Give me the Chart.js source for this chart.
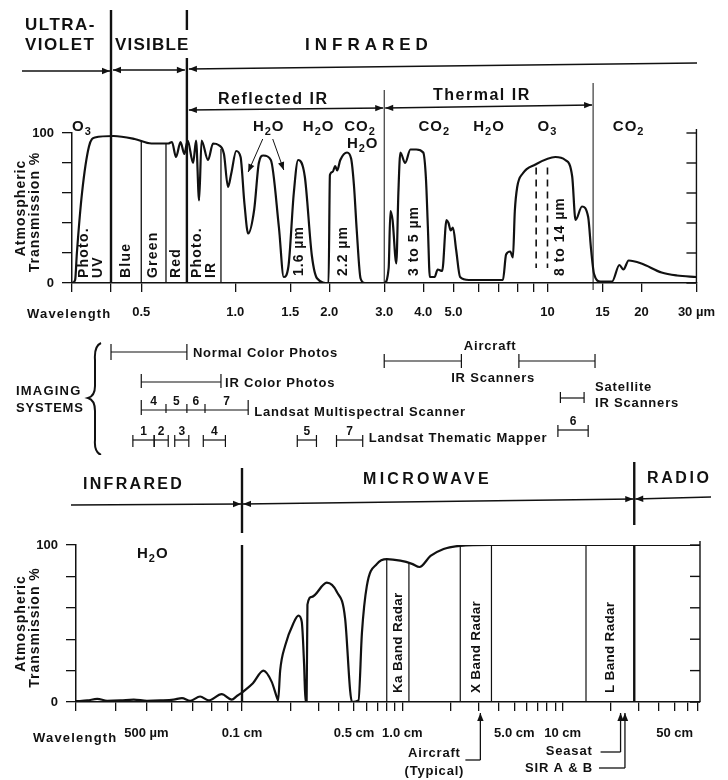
<!DOCTYPE html>
<html>
<head>
<meta charset="utf-8">
<script src="https://cdn.jsdelivr.net/npm/chart.js@4.4.1/dist/chart.umd.min.js"></script>
<style>
  body { margin: 0; background: #fff; }
  canvas { position: absolute; left: 0; }
  #topChart { top: 0; }
  #botChart { top: 455px; }
</style>
</head>
<body>
<canvas id="topChart" width="728" height="455"></canvas>
<canvas id="botChart" width="728" height="325"></canvas>
<script>
const FONT = '"Liberation Sans", Arial, sans-serif';
const INK = '#111';

// ---- upper panel: UV, visible, IR (wavelength in µm) ----
const opticalWavelength = [0.300, 0.307, 0.311, 0.323, 0.340, 0.355, 0.408, 0.476, 0.539, 0.600,
  0.610, 0.627, 0.646, 0.668, 0.687, 0.704, 0.733, 0.749, 0.766, 0.780,
  0.818, 0.849, 0.884, 0.920, 0.948, 0.971, 1.007, 1.040, 1.070, 1.100,
  1.150, 1.190, 1.230, 1.300, 1.380, 1.430, 1.480, 1.540, 1.590, 1.670,
  1.760, 1.830, 1.990, 2.010, 2.050, 2.090, 2.120, 2.170, 2.280, 2.350,
  2.400, 2.450, 2.520, 2.600, 3.000, 3.100, 3.140, 3.190, 3.280, 3.330,
  3.380, 3.500, 3.640, 3.800, 4.000, 4.080, 4.140, 4.200, 4.350, 4.450,
  4.600, 4.750, 4.820, 4.900, 4.980, 5.100, 5.250, 5.600, 7.200, 7.370,
  7.600, 7.750, 7.860, 8.000, 8.330, 9.150, 10.60, 11.40, 12.00, 12.30,
  12.90, 13.50, 13.80, 14.10, 14.80, 16.10, 17.00, 17.50, 18.20, 20.00,
  23.20, 26.00, 30.00];
const opticalTransmission = [0, 2, 20, 60, 91, 97, 98, 96, 93, 93,
  93, 94, 84, 94, 86, 95, 80, 95, 55, 95,
  82, 93, 92, 86, 64, 73, 88, 84, 53, 33,
  49, 80, 85, 82, 37, 4, 11, 60, 82, 71,
  18, 3, 0, 72, 74, 78, 75, 82, 87, 83,
  65, 35, 3, 0, 0, 10, 48, 42, 13, 60,
  87, 80, 89, 89, 87, 70, 37, 4, 4, 9,
  8, 42, 40, 35, 37, 22, 4, 2, 2, 19,
  21, 17, 48, 64, 73, 79, 84, 82, 71, 42,
  51, 44, 22, 6, 1, 1, 12, 9, 15, 13,
  7, 5, 4];
const opticalTicks = [0.3, 0.4, 0.5, 1, 1.5, 2, 3, 4, 5, 6, 7, 8, 9, 10, 15, 20, 30];
const opticalTickLabels = {0.5: '0.5', 1: '1.0', 1.5: '1.5', 2: '2.0', 3: '3.0', 4: '4.0', 5: '5.0',
  10: '10', 15: '15', 20: '20', 30: '30 µm'};
const regionEdges = [0.4, 0.7, 3.0, 14];          // UV|vis, vis|IR, reflected|thermal, thermal end
const spectralBands = [['Photo.|UV', 0.3, 0.4], ['Blue', 0.4, 0.5], ['Green', 0.5, 0.6],
  ['Red', 0.6, 0.7], ['Photo.|IR', 0.7, 0.9]];
const bandEdges = [0.5, 0.6, 0.9];
const windowLabels = [['1.6 µm', 1.6], ['2.2 µm', 2.22], ['3 to 5 µm', 3.73], ['8 to 14 µm', 11.0]];
const windowDashes = [9.2, 10.0];
const gasLabels = [['H2O', 1.28, 131], ['H2O', 1.85, 131], ['CO2', 2.51, 131], ['H2O', 2.56, 148],
  ['CO2', 4.34, 131], ['H2O', 6.5, 131], ['O3', 10.0, 131], ['CO2', 18.2, 131]];
const waterArrows = [1.10, 1.43];

// imaging systems (µm)
const colorPhotos = [0.4, 0.7];
const irColorPhotos = [0.5, 0.9];
const mssBands = [['4', 0.5, 0.6], ['5', 0.6, 0.7], ['6', 0.7, 0.8], ['7', 0.8, 1.1]];
const tmBands = [['1', 0.47, 0.55], ['2', 0.55, 0.61], ['3', 0.64, 0.71], ['4', 0.79, 0.93],
  ['5', 1.58, 1.82], ['7', 2.11, 2.56], ['6', 10.8, 13.5]];
const aircraftScanners = [[3.0, 5.3], [8.1, 14.2]];
const satelliteScanner = [11.0, 13.1];

// ---- lower panel: far IR (µm) and microwave / radio (cm) ----
const farIrWavelength = [300, 326, 350, 376, 414, 456, 502, 553, 609, 647, 687, 738, 784, 863, 928, 966, 1000];
const farIrTransmission = [0.5, 1, 2, 0.8, 1, 1.5, 0.8, 1, 1.5, 2.5, 0.8, 3.5, 1, 5, 1.5, 4, 6];
const microwaveWavelength = [0.100, 0.117, 0.136, 0.153, 0.165, 0.168, 0.173, 0.186, 0.209, 0.225,
  0.236, 0.244, 0.249, 0.253, 0.256, 0.273, 0.338, 0.391, 0.440, 0.473,
  0.485, 0.533, 0.560, 0.601, 0.695, 0.802, 0.972, 1.15, 1.28, 1.50,
  1.81, 2.30, 3.55, 10, 72];
const microwaveTransmission = [6, 12, 20, 13, 3, 1, 20, 36, 50, 55,
  51, 24, 0, 0, 62, 67, 76, 70, 53, 7,
  0, 1, 44, 74, 88, 91, 90, 88, 86, 93,
  97.5, 99.5, 100, 100, 100];
const farIrTicks = [300, 400, 500, 600, 700, 800, 900];
const farIrTickLabels = {500: '500 µm'};
const microwaveTicks = [0.1, 0.2, 0.3, 0.4, 0.5, 0.6, 0.7, 0.8, 0.9, 1, 2, 3, 4, 5, 6, 7, 8, 9, 10, 20, 30, 40, 50, 60, 70];
const microwaveTickLabels = {0.1: '0.1 cm', 0.5: '0.5 cm', 1: '1.0 cm', 5: '5.0 cm', 10: '10 cm', 50: '50 cm'};
const microwaveEdges = [0.1, 28];                 // IR|microwave, microwave|radio
const radarBands = [['Ka Band Radar', 0.8, 1.1], ['X Band Radar', 2.3, 3.6], ['L Band Radar', 14, 28]];
const radarSystems = [['Aircraft|(Typical)', 3.07], ['Seasat', 23], ['SIR A & B', 24.5]];

const percentTicks = [0, 20, 40, 60, 80, 100];

// ---- drawing helpers ----
function font(size) { return 'bold ' + size + 'px ' + FONT; }

function txt(ctx, s, x, y, size, o = {}) {
  ctx.save();
  ctx.font = font(size);
  ctx.letterSpacing = (o.ls || 0) + 'px';
  ctx.textAlign = o.align || 'left';
  ctx.textBaseline = o.base || 'alphabetic';
  ctx.fillStyle = INK;
  if (o.rot) {
    ctx.translate(x, y);
    ctx.rotate(-Math.PI / 2);
    ctx.fillText(s, 0, 0);
  } else {
    ctx.fillText(s, x, y);
  }
  ctx.restore();
}

// formula with subscript digits, e.g. H2O
function chem(ctx, s, x, y, size, align) {
  ctx.save();
  ctx.fillStyle = INK;
  const big = font(size), small = font(Math.round(size * 0.72));
  let w = 0;
  for (const ch of s) { ctx.font = /\d/.test(ch) ? small : big; w += ctx.measureText(ch).width + 1; }
  let cx = align === 'center' ? x - w / 2 : x;
  for (const ch of s) {
    const sub = /\d/.test(ch);
    ctx.font = sub ? small : big;
    ctx.fillText(ch, cx, sub ? y + 4 : y);
    cx += ctx.measureText(ch).width + 1;
  }
  ctx.restore();
}

function seg(ctx, x1, y1, x2, y2) {
  ctx.beginPath(); ctx.moveTo(x1, y1); ctx.lineTo(x2, y2); ctx.stroke();
}

function head(ctx, x, y, ang) {
  const L = 8, W = 3.2;
  ctx.beginPath();
  ctx.moveTo(x, y);
  ctx.lineTo(x - L * Math.cos(ang) + W * Math.sin(ang), y - L * Math.sin(ang) - W * Math.cos(ang));
  ctx.lineTo(x - L * Math.cos(ang) - W * Math.sin(ang), y - L * Math.sin(ang) + W * Math.cos(ang));
  ctx.closePath();
  ctx.fill();
}

function arrow(ctx, x1, y1, x2, y2, atStart, atEnd) {
  seg(ctx, x1, y1, x2, y2);
  if (atEnd) head(ctx, x2, y2, Math.atan2(y2 - y1, x2 - x1));
  if (atStart) head(ctx, x1, y1, Math.atan2(y1 - y2, x1 - x2));
}

// horizontal span with end caps
function bar(ctx, x1, x2, y, up, down) {
  seg(ctx, x1, y, x2, y);
  seg(ctx, x1, y - up, x1, y + down);
  seg(ctx, x2, y - up, x2, y + down);
}

// curve height at a wavelength (log-x interpolation), used to stop band lines on the curve
function valueAt(xs, ys, w) {
  for (let i = 1; i < xs.length; i++) {
    if (xs[i] >= w) {
      const t = (Math.log(w) - Math.log(xs[i - 1])) / (Math.log(xs[i]) - Math.log(xs[i - 1]));
      return ys[i - 1] + t * (ys[i] - ys[i - 1]);
    }
  }
  return ys[ys.length - 1];
}

function yTitle(ctx, a) {
  const mid = (a.top + a.bottom) / 2;
  txt(ctx, 'Atmospheric', 21, mid, 14, {rot: true, align: 'center', base: 'middle', ls: 1});
  txt(ctx, 'Transmission %', 35, mid + 4, 14, {rot: true, align: 'center', base: 'middle', ls: 1});
}

function rightAxis(ctx, a, ys) {
  ctx.lineWidth = 1.4;
  seg(ctx, a.right, ys.getPixelForValue(100) - 4, a.right, a.bottom);
  percentTicks.forEach(v => seg(ctx, a.right - 10, ys.getPixelForValue(v), a.right, ys.getPixelForValue(v)));
}

const topDecor = {
  id: 'topDecor',
  afterDraw(chart) {
    const ctx = chart.ctx, xs = chart.scales.x, ys = chart.scales.y, a = chart.chartArea;
    const px = w => xs.getPixelForValue(w), py = v => ys.getPixelForValue(v);
    ctx.save();
    ctx.strokeStyle = INK;
    ctx.fillStyle = INK;

    // spectral regions
    txt(ctx, 'ULTRA-', 25, 30, 17, {ls: 1.5});
    txt(ctx, 'VIOLET', 25, 50, 17, {ls: 1.5});
    txt(ctx, 'VISIBLE', 115, 50, 17, {ls: 1.2});
    txt(ctx, 'INFRARED', 305, 50, 17, {ls: 5});
    const [xUV, xVis, x3, x14] = regionEdges.map(px);
    ctx.lineWidth = 1.3;
    arrow(ctx, 22, 71, xUV - 1, 71, false, true);
    arrow(ctx, xUV + 2, 70, xVis - 2, 70, true, true);
    arrow(ctx, xVis + 2, 69, 697, 63, true, false);

    txt(ctx, 'Reflected IR', 218, 104, 16, {ls: 1.5});
    txt(ctx, 'Thermal IR', 433, 100, 16, {ls: 1.5});
    arrow(ctx, xVis + 2, 110, x3 - 1, 108, true, true);
    arrow(ctx, x3 + 1, 108, x14 - 1, 105, true, true);

    ctx.lineWidth = 2.4;
    seg(ctx, xUV, 10, xUV, a.bottom);
    seg(ctx, xVis, 10, xVis, 30);
    seg(ctx, xVis, 58, xVis, a.bottom);
    ctx.lineWidth = 1;
    seg(ctx, x3, 90, x3, a.bottom);
    seg(ctx, x14, 83, x14, a.bottom + 7);

    // band edges stop on the curve
    ctx.lineWidth = 1.3;
    bandEdges.forEach(e => seg(ctx, px(e), py(valueAt(opticalWavelength, opticalTransmission, e)), px(e), a.bottom));

    spectralBands.forEach(([name, lo, hi]) => {
      const lines = name.split('|');
      const cx = px(Math.sqrt(lo * hi));
      lines.forEach((s, i) => txt(ctx, s, cx + (i - (lines.length - 1) / 2) * 14, a.bottom - 5, 14,
        {rot: true, base: 'middle', ls: 1.2}));
    });
    windowLabels.forEach(([s, w]) => txt(ctx, s, px(w), a.bottom - 7, 14, {rot: true, base: 'middle', ls: 1}));

    ctx.lineWidth = 1.6;
    ctx.setLineDash([7, 5]);
    windowDashes.forEach(w => seg(ctx, px(w), py(77), px(w), py(10)));
    ctx.setLineDash([]);

    // absorbing gases
    chem(ctx, 'O3', a.left, 131, 15, 'left');
    gasLabels.forEach(([g, w, y]) => chem(ctx, g, px(w), y, 15, 'center'));
    ctx.lineWidth = 1;
    arrow(ctx, px(1.28) - 6, 139, px(waterArrows[0]), 172, false, true);
    arrow(ctx, px(1.28) + 4, 139, px(waterArrows[1]), 170, false, true);

    rightAxis(ctx, a, ys);
    yTitle(ctx, a);
    txt(ctx, 'Wavelength', 27, 318, 13, {ls: 1.2});

    // imaging systems
    ctx.lineWidth = 1.2;
    bar(ctx, px(colorPhotos[0]), px(colorPhotos[1]), 352, 8, 8);
    txt(ctx, 'Normal Color Photos', px(colorPhotos[1]) + 6, 357, 13, {ls: 0.8});
    bar(ctx, px(irColorPhotos[0]), px(irColorPhotos[1]), 382, 8, 6);
    txt(ctx, 'IR Color Photos', px(irColorPhotos[1]) + 4, 387, 13, {ls: 0.8});

    const m1 = px(mssBands[0][1]), m2 = px(mssBands[mssBands.length - 1][2]);
    bar(ctx, m1, m2, 410, 10, 5);
    mssBands.forEach(([n, lo, hi], i) => {
      if (i) seg(ctx, px(lo), 404, px(lo), 413);
      txt(ctx, n, px(Math.sqrt(lo * hi)), 405, 12, {align: 'center'});
    });
    txt(ctx, 'Landsat Multispectral Scanner', m2 + 6, 416, 13, {ls: 0.8});

    tmBands.forEach(([n, lo, hi]) => {
      const y = n === '6' ? 430 : 440;
      bar(ctx, px(lo), px(hi), y, 5, 7);
      txt(ctx, n, px(Math.sqrt(lo * hi)), y - 5, 12, {align: 'center'});
    });
    txt(ctx, 'Landsat Thematic Mapper', px(2.56) + 6, 442, 13, {ls: 0.8});

    aircraftScanners.forEach(([lo, hi]) => bar(ctx, px(lo), px(hi), 361, 7, 7));
    const ac = (px(aircraftScanners[0][1]) + px(aircraftScanners[1][0])) / 2;
    txt(ctx, 'Aircraft', ac, 350, 13, {align: 'center', ls: 0.8});
    txt(ctx, 'IR Scanners', ac + 3, 382, 13, {align: 'center', ls: 0.8});

    bar(ctx, px(satelliteScanner[0]), px(satelliteScanner[1]), 398, 6, 5);
    txt(ctx, 'Satellite', px(satelliteScanner[1]) + 11, 391, 13, {ls: 0.8});
    txt(ctx, 'IR Scanners', px(satelliteScanner[1]) + 11, 407, 13, {ls: 0.8});

    txt(ctx, 'IMAGING', 16, 395, 13, {ls: 1.2});
    txt(ctx, 'SYSTEMS', 16, 412, 13, {ls: 0.8});
    ctx.lineWidth = 2;
    ctx.beginPath();
    ctx.moveTo(101, 343);
    ctx.quadraticCurveTo(94, 346, 95, 360);
    ctx.lineTo(95, 386);
    ctx.quadraticCurveTo(95, 396, 88, 398);
    ctx.quadraticCurveTo(95, 400, 95, 411);
    ctx.lineTo(95, 440);
    ctx.quadraticCurveTo(94, 452, 101, 455);
    ctx.stroke();
    ctx.restore();
  }
};

const botDecor = {
  id: 'botDecor',
  afterDraw(chart) {
    const ctx = chart.ctx, xm = chart.scales.xMW, ys = chart.scales.y, a = chart.chartArea;
    const px = w => xm.getPixelForValue(w), py = v => ys.getPixelForValue(v);
    ctx.save();
    ctx.strokeStyle = INK;
    ctx.fillStyle = INK;

    txt(ctx, 'INFRARED', 83, 34, 16, {ls: 2.3});
    txt(ctx, 'MICROWAVE', 363, 29, 16, {ls: 3.3});
    txt(ctx, 'RADIO', 647, 28, 16, {ls: 2.6});
    const [xB, xR] = microwaveEdges.map(px);
    ctx.lineWidth = 1.3;
    arrow(ctx, 71, 50, xB - 1, 49, false, true);
    arrow(ctx, xB + 1, 49, xR - 1, 44, true, true);
    arrow(ctx, xR + 1, 44, 711, 42, true, false);
    ctx.lineWidth = 2.4;
    seg(ctx, xB, 13, xB, 78);
    seg(ctx, xB, a.top, xB, a.bottom);
    seg(ctx, xR, 7, xR, 70);
    seg(ctx, xR, a.top, xR, a.bottom);

    chem(ctx, 'H2O', 137, 103, 15, 'left');

    ctx.lineWidth = 1.2;
    radarBands.forEach(([name, lo, hi]) => {
      [lo, hi].forEach(e => {
        if (e !== microwaveEdges[1]) seg(ctx, px(e), py(valueAt(microwaveWavelength, microwaveTransmission, e)), px(e), a.bottom);
      });
      txt(ctx, name, px(Math.sqrt(lo * hi)), a.bottom - 9, 13.5, {rot: true, base: 'middle', ls: 0.3});
    });

    rightAxis(ctx, a, ys);
    yTitle(ctx, a);
    txt(ctx, 'Wavelength', 33, 287, 13, {ls: 1.2});

    // radar systems pointing at the axis
    ctx.lineWidth = 1.3;
    const [air, seasat, sir] = radarSystems;
    const xa = px(air[1]);
    air[0].split('|').forEach((s, i) => txt(ctx, s, xa - 46, 302 + i * 18, 13, {align: 'center', ls: 0.8}));
    seg(ctx, xa - 15, 305, xa, 305);
    arrow(ctx, xa, 305, xa, 258, false, true);
    const xs2 = px(seasat[1]);
    txt(ctx, seasat[0], xs2 - 28, 300, 13, {align: 'right', ls: 0.8});
    seg(ctx, xs2 - 20, 297, xs2, 297);
    arrow(ctx, xs2, 297, xs2, 258, false, true);
    const xs3 = px(sir[1]);
    txt(ctx, sir[0], xs3 - 32, 317, 13, {align: 'right', ls: 0.8});
    seg(ctx, xs3 - 26, 313, xs3, 313);
    arrow(ctx, xs3, 313, xs3, 258, false, true);
    ctx.restore();
  }
};

const tickFont = {family: FONT, weight: 'bold', size: 13};
const yAxis = width => ({
  min: 0, max: 100,
  afterFit: s => { s.width = width; },
  afterBuildTicks: s => { s.ticks = percentTicks.map(v => ({value: v})); },
  ticks: {color: INK, font: tickFont, padding: 8, callback: v => (v === 0 || v === 100) ? String(v) : ''},
  grid: {drawOnChartArea: false, tickLength: 10, color: INK, lineWidth: 1.3},
  border: {color: INK, width: 1.5}
});
const logAxis = (min, max, ticks, labels, height, pad, extra) => Object.assign({
  type: 'logarithmic', min: min, max: max,
  afterFit: s => { s.height = height; },
  afterBuildTicks: s => { s.ticks = ticks.map(v => ({value: v})); },
  ticks: {autoSkip: false, maxRotation: 0, color: INK, font: tickFont, padding: pad, callback: v => labels[v] || ''},
  grid: {drawOnChartArea: false, tickLength: 9, color: INK, lineWidth: 1.3},
  border: {color: INK, width: 1.5}
}, extra);
const lineStyle = {borderColor: INK, borderWidth: 2.2, pointRadius: 0, cubicInterpolationMode: 'monotone', fill: false};
const common = {responsive: false, animation: false, devicePixelRatio: 1,
  plugins: {legend: {display: false}, tooltip: {enabled: false}}};

new Chart(document.getElementById('topChart'), {
  type: 'line',
  data: {datasets: [Object.assign({
    data: opticalWavelength.map((w, i) => ({x: w, y: opticalTransmission[i]}))
  }, lineStyle)]},
  options: Object.assign({}, common, {
    layout: {padding: {left: 0, right: 29, top: 133, bottom: 0}},
    scales: {
      x: logAxis(0.3, 30, opticalTicks, opticalTickLabels, 172, 13, {position: 'bottom'}),
      y: yAxis(72)
    }
  }),
  plugins: [topDecor]
});

new Chart(document.getElementById('botChart'), {
  type: 'line',
  data: {datasets: [
    Object.assign({xAxisID: 'xIR', data: farIrWavelength.map((w, i) => ({x: w, y: farIrTransmission[i]}))}, lineStyle),
    Object.assign({xAxisID: 'xMW', data: microwaveWavelength.map((w, i) => ({x: w, y: microwaveTransmission[i]}))}, lineStyle)
  ]},
  options: Object.assign({}, common, {
    layout: {padding: {left: 0, right: 28, top: 90, bottom: 0}},
    scales: {
      xIR: logAxis(300, 1000, farIrTicks, farIrTickLabels, 78, 15, {position: 'bottom', stack: 'wave', stackWeight: 166}),
      xMW: logAxis(0.1, 72, microwaveTicks, microwaveTickLabels, 78, 15, {position: 'bottom', stack: 'wave', stackWeight: 458}),
      y: yAxis(76)
    }
  }),
  plugins: [botDecor]
});
</script>
</body>
</html>
